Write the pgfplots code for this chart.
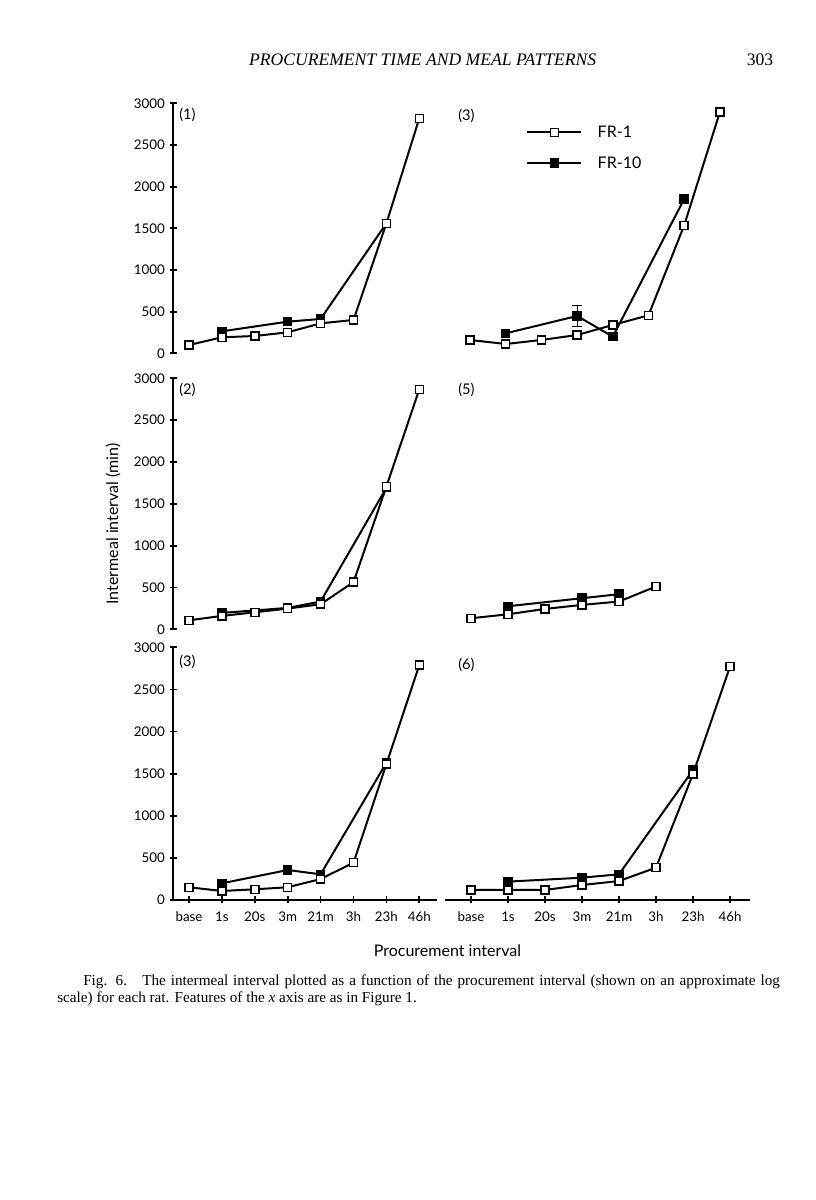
\documentclass[border=0pt]{standalone}
\usepackage{fontspec}
\setmainfont{Liberation Serif}
\newfontfamily\lato{Lato}
\usepackage{pgfplots}
\pgfplotsset{compat=1.18}

\pgfplotsset{
  panelbase/.style={scale only axis, anchor=south west, ymin=0, ymax=3000, clip=false,
    tick align=outside, major tick length=5.25pt,
    major tick style={line width=1.3pt, black},
    tick label style={font=\lato\fontsize{10}{12}\selectfont, text=black},
    xticklabel style={text height=7.2pt, text depth=0pt, yshift=-3pt},
    ytick={0,500,...,3000}, yticklabels={0,500,1000,1500,2000,2500,3000},
    xtick={0,...,7}, xticklabels={base,1s,20s,3m,21m,3h,23h,46h},
  },
  noarrows/.style={
    axis line style={-, line width=1.5pt, black},
    x axis line style={-}, y axis line style={-},
    every outer x axis line/.append style={-},
    every outer y axis line/.append style={-},
    every inner x axis line/.append style={-},
    every inner y axis line/.append style={-},
    every non boxed x axis/.append style={x axis line style={-}},
    every non boxed y axis/.append style={y axis line style={-}},
  },
  leftpanel/.style={panelbase, width=198pt, xmin=-0.486, xmax=7.538},
  rightpanel/.style={panelbase, width=228.75pt, xmin=-0.703, xmax=7.541},
  fra/.style={black, line width=1.5pt, mark=square*, mark size=3pt,
    mark options={fill=white, draw=black, solid, line width=1.1pt}},
  frb/.style={black, line width=1.5pt, mark=square*, mark size=3pt,
    mark options={fill=black, draw=black, solid, line width=1.1pt}},
}

\begin{document}
\begin{tikzpicture}
\path[use as bounding box] (0pt,0pt) rectangle (612pt,900pt);

% page header
\node[font=\itshape\fontsize{13.2}{15}\selectfont, anchor=base] at (317pt,851pt) {PROCUREMENT TIME AND MEAL PATTERNS};
\node[font=\fontsize{13.2}{15}\selectfont, anchor=base east] at (583.5pt,851pt) {303};

% (1) top left
\begin{axis}[leftpanel, at={(129.75pt,635pt)}, height=187.5pt, axis x line=none, axis y line=left, noarrows]
\addplot[frb] coordinates {(1,264)(3,380)(4,412)(6,1560)};
\addplot[fra] coordinates {(0,100)(1,192)(2,208)(3,252)(4,360)(5,400)(6,1560)(7,2820)};
\end{axis}

% (3) top right
\begin{axis}[panelbase, width=228.75pt, xmin=-0.700, xmax=7.843, at={(333.75pt,635pt)}, height=187.5pt, hide axis,
  reverse legend,
  legend image code/.code={\draw[mark repeat=2,mark phase=2,#1] plot coordinates {(0pt,0pt)(20.25pt,0pt)(40.5pt,0pt)}; \path (50pt,0pt);},
  legend style={at={(0.266,0.822)}, anchor=west, draw=none, fill=none, inner sep=0pt,
    font=\lato\fontsize{12}{14}\selectfont, row sep=9pt},
  legend cell align=left]
\addplot[black, line width=0.9pt, mark=none, forget plot, error bars/.cd, y dir=both, y explicit,
  error mark options={rotate=90, mark size=4pt, line width=0.9pt, black}] coordinates {(3,448) +- (0,122)};
\addplot[frb] coordinates {(1,240)(3,448)(4,200)(6,1852)};
\addlegendentry{FR-10}
\addplot[fra] coordinates {(0,160)(1,112)(2,160)(3,220)(4,340)(5,456)(6,1536)(7,2896)};
\addlegendentry{FR-1}
\end{axis}

% (2) middle left
\begin{axis}[leftpanel, at={(129.75pt,428pt)}, height=188.25pt, axis x line=none, axis y line=left, noarrows]
\addplot[frb] coordinates {(1,196)(3,256)(4,332)(6,1692)};
\addplot[fra] coordinates {(0,108)(1,160)(2,204)(3,248)(4,300)(5,564)(6,1708)(7,2868)};
\end{axis}

% (5) middle right
\begin{axis}[rightpanel, at={(333.75pt,428pt)}, height=188.25pt, hide axis]
\addplot[frb] coordinates {(1,276)(3,372)(4,420)};
\addplot[fra] coordinates {(0,132)(1,180)(2,244)(3,292)(4,332)(5,512)};
\end{axis}

% (3) bottom left
\begin{axis}[leftpanel, at={(129.75pt,225pt)}, height=189.5pt, axis x line=bottom, axis y line=left, noarrows]
\addplot[frb] coordinates {(1,198)(3,356)(4,305)(6,1630)};
\addplot[fra] coordinates {(0,151)(1,107)(2,127)(3,151)(4,249)(5,443)(6,1614)(7,2789)};
\end{axis}

% (6) bottom right
\begin{axis}[rightpanel, at={(333.75pt,225pt)}, height=189.5pt, axis x line=bottom, axis y line=none, noarrows]
\addplot[frb] coordinates {(1,218)(3,265)(4,305)(6,1543)};
\addplot[fra] coordinates {(0,119)(1,119)(2,119)(3,178)(4,225)(5,384)(6,1496)(7,2770)};
\end{axis}

% panel labels
\begin{scope}[every node/.style={font=\lato\fontsize{11}{13}\selectfont, anchor=west, inner sep=0pt}]
\node at (134.25pt,813.75pt) {(1)};
\node at (343.5pt,813pt) {(3)};
\node at (134.25pt,607.5pt) {(2)};
\node at (343.5pt,607.5pt) {(5)};
\node at (134.25pt,403.7pt) {(3)};
\node at (343.5pt,401.25pt) {(6)};
\end{scope}

% axis titles
\node[font=\lato\fontsize{12}{14}\selectfont, rotate=90] at (84.75pt,507pt) {Intermeal interval (min)};
\node[font=\lato\fontsize{12}{14}\selectfont] at (335.6pt,187pt) {Procurement interval};

% caption
\node[anchor=north west, inner sep=0pt, text width=542pt, align=justify,
  font=\fontsize{11.4}{12.75}\selectfont] at (42.75pt,169pt)
  {\parindent=19.5pt\indent Fig. 6.\quad The intermeal interval plotted as a function of the procurement interval (shown on an approximate log\linebreak scale) for each rat. Features of the \textit{x} axis are as in Figure 1.};
\end{tikzpicture}
\end{document}
